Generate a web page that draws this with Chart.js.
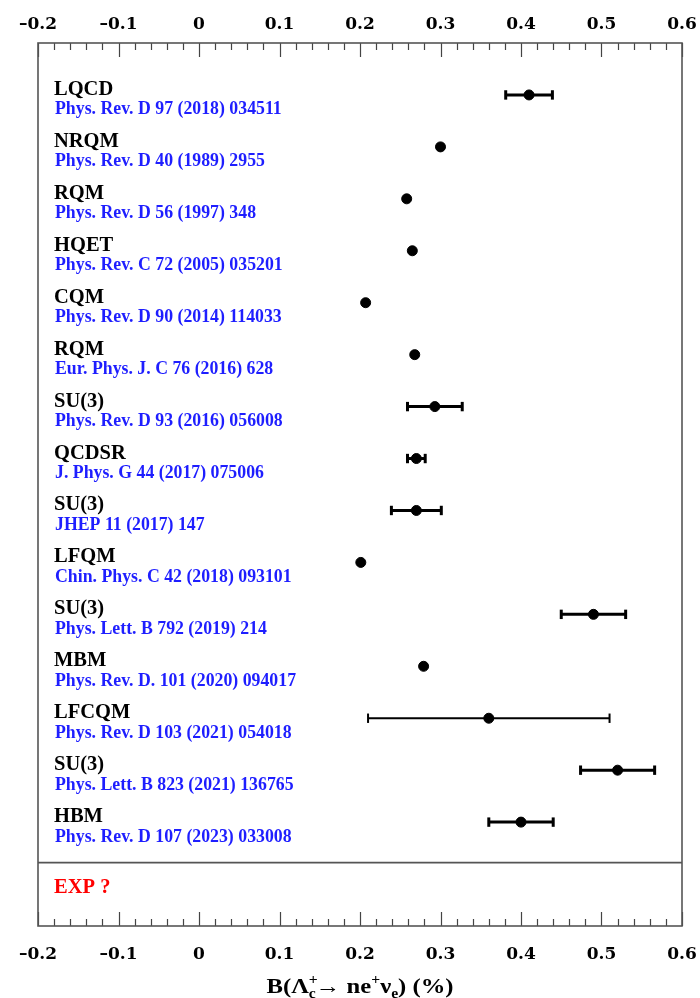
<!DOCTYPE html>
<html>
<head>
<meta charset="utf-8">
<title>B(Lambda_c+ -> n e+ nu_e) predictions</title>
<script src="https://cdn.jsdelivr.net/npm/chart.js@4.4.0/dist/chart.umd.min.js"></script>
<style>
  body { margin: 0; background: #fff; }
  canvas { display: block; }
</style>
</head>
<body>
<canvas id="bfChart" width="700" height="998"></canvas>
<script>
// model names and references, top to bottom
var models = ['LQCD', 'NRQM', 'RQM', 'HQET', 'CQM', 'RQM', 'SU(3)', 'QCDSR', 'SU(3)', 'LFQM', 'SU(3)', 'MBM', 'LFCQM', 'SU(3)', 'HBM'];
var refs = [
    'Phys. Rev. D 97 (2018) 034511',
    'Phys. Rev. D 40 (1989) 2955',
    'Phys. Rev. D 56 (1997) 348',
    'Phys. Rev. C 72 (2005) 035201',
    'Phys. Rev. D 90 (2014) 114033',
    'Eur. Phys. J. C 76 (2016) 628',
    'Phys. Rev. D 93 (2016) 056008',
    'J. Phys. G 44 (2017) 075006',
    'JHEP 11 (2017) 147',
    'Chin. Phys. C 42 (2018) 093101',
    'Phys. Lett. B 792 (2019) 214',
    'Phys. Rev. D. 101 (2020) 094017',
    'Phys. Rev. D 103 (2021) 054018',
    'Phys. Lett. B 823 (2021) 136765',
    'Phys. Rev. D 107 (2023) 033008'
];
// branching fraction in %, and symmetric error (null = no error bar)
var values = [0.410, 0.300, 0.258, 0.265, 0.207, 0.268, 0.293, 0.270, 0.270, 0.201, 0.490, 0.279, 0.360, 0.520, 0.400];
var errors = [0.029, null, null, null, null, null, 0.034, 0.011, 0.031, null, 0.040, null, 0.150, 0.046, 0.040];
var tickLabels = ['\u20130.2', '\u20130.1', '0', '0.1', '0.2', '0.3', '0.4', '0.5', '0.6'];
var expLabel = 'EXP ?';

var serif = '"Liberation Serif", "Times New Roman", serif';

var datasets = [];
// dots first so they sit on top of the bars
datasets.push({
    label: 'prediction',
    data: values.map(function (v, i) { return { x: v, y: i }; }),
    backgroundColor: '#000',
    borderColor: '#000',
    pointRadius: 5,
    pointStyle: 'circle'
});
errors.forEach(function (e, i) {
    if (e === null) return;
    var w = e > 0.1 ? 2 : 3; // the wide LFCQM bar is drawn thinner
    datasets.push({
        label: 'err' + i,
        data: [{ x: values[i] - e, y: i }, { x: values[i] + e, y: i }],
        showLine: true,
        borderColor: '#000',
        borderWidth: w,
        pointStyle: 'line',
        pointRotation: 90,
        pointRadius: 4.7,
        pointBorderWidth: w,
        pointBorderColor: '#000'
    });
});

// frame, inward ticks, separator, labels and axis title
var decorations = {
    id: 'decorations',
    afterDraw: function (chart) {
        var ctx = chart.ctx;
        var area = chart.chartArea;
        var xs = chart.scales.x;
        var ys = chart.scales.y;
        ctx.save();

        // tick marks (inside the frame, top and bottom)
        ctx.strokeStyle = '#444';
        ctx.lineWidth = 1.2;
        for (var k = -10; k <= 30; k++) {
            var px = Math.round(xs.getPixelForValue(k * 0.02)) + 0.5;
            var len = (k % 5 === 0) ? 14 : 7;
            ctx.beginPath();
            ctx.moveTo(px, area.top);
            ctx.lineTo(px, area.top + len);
            ctx.moveTo(px, area.bottom);
            ctx.lineTo(px, area.bottom - len);
            ctx.stroke();
        }

        // frame + separator above the EXP row
        ctx.strokeStyle = '#555';
        ctx.lineWidth = 1.6;
        ctx.strokeRect(area.left, area.top, area.right - area.left, area.bottom - area.top);
        var sy = ys.getPixelForValue(14.78);
        ctx.beginPath();
        ctx.moveTo(area.left, sy);
        ctx.lineTo(area.right, sy);
        ctx.stroke();

        // model names and references
        ctx.textAlign = 'left';
        ctx.textBaseline = 'alphabetic';
        for (var i = 0; i < models.length; i++) {
            var y = ys.getPixelForValue(i);
            ctx.fillStyle = '#000';
            ctx.font = 'bold 20.5px ' + serif;
            ctx.fillText(models[i], 54, y);
            ctx.fillStyle = 'rgb(30,30,255)';
            ctx.font = 'bold 17.8px ' + serif;
            ctx.fillText(refs[i], 55, y + 19.5);
        }
        ctx.fillStyle = '#ff0000';
        ctx.font = 'bold 20.5px ' + serif;
        ctx.fillText(expLabel, 54, ys.getPixelForValue(15.37));

        // axis title with sub/superscripts, slightly widened like the original
        var big = 'bold 22px ' + serif;
        var small = 'bold 14px ' + serif;
        var stretch = 1.12;
        var pieces = [
            { t: 'B(\u039b', s: false, dy: 0, adv: true },
            { t: '+', s: true, dy: -9, adv: false },
            { t: 'c', s: true, dy: 5, adv: true },
            { t: '\u2192 ne', s: false, dy: 0, adv: true },
            { t: '+', s: true, dy: -9, adv: true },
            { t: '\u03bd', s: false, dy: 0, adv: true },
            { t: 'e', s: true, dy: 5, adv: true },
            { t: ') (%)', s: false, dy: 0, adv: true }
        ];
        var total = 0;
        pieces.forEach(function (p) {
            ctx.font = p.s ? small : big;
            p.w = ctx.measureText(p.t).width;
            if (p.adv) total += p.w;
        });
        var cx = (area.left + area.right) / 2;
        ctx.translate(cx, 993);
        ctx.scale(stretch, 1);
        var tx = -total / 2;
        ctx.fillStyle = '#000';
        pieces.forEach(function (p) {
            ctx.font = p.s ? small : big;
            ctx.fillText(p.t, tx, p.dy);
            if (p.adv) tx += p.w;
        });
        ctx.restore();
    }
};

function tickFont() {
    return { family: '"DejaVu Serif", serif', size: 17, weight: 'bold' };
}

function fixAxis(height) {
    return function (s) {
        s.height = height;
        s.paddingLeft = 0;
        s.paddingRight = 0;
    };
}

var chart = new Chart(document.getElementById('bfChart'), {
    type: 'scatter',
    data: { datasets: datasets },
    options: {
        responsive: false,
        animation: false,
        devicePixelRatio: 1,
        layout: { padding: { left: 38, right: 18, top: 0, bottom: 0 } },
        plugins: {
            legend: { display: false },
            tooltip: { enabled: false }
        },
        scales: {
            x: {
                type: 'linear',
                position: 'bottom',
                min: -0.2,
                max: 0.6,
                grid: { display: false },
                border: { display: false },
                ticks: {
                    stepSize: 0.1,
                    autoSkip: false,
                    maxRotation: 0,
                    padding: 10,
                    color: '#000',
                    font: tickFont,
                    callback: function (v, idx) { return tickLabels[idx]; }
                },
                afterFit: fixAxis(72)
            },
            xTop: {
                type: 'linear',
                position: 'top',
                min: -0.2,
                max: 0.6,
                grid: { display: false },
                border: { display: false },
                ticks: {
                    stepSize: 0.1,
                    autoSkip: false,
                    maxRotation: 0,
                    padding: 0,
                    color: '#000',
                    font: tickFont,
                    callback: function (v, idx) { return tickLabels[idx]; }
                },
                afterFit: fixAxis(43)
            },
            y: {
                type: 'linear',
                reverse: true,
                min: -1,
                max: 16,
                display: false
            }
        }
    },
    plugins: [decorations]
});
</script>
</body>
</html>
